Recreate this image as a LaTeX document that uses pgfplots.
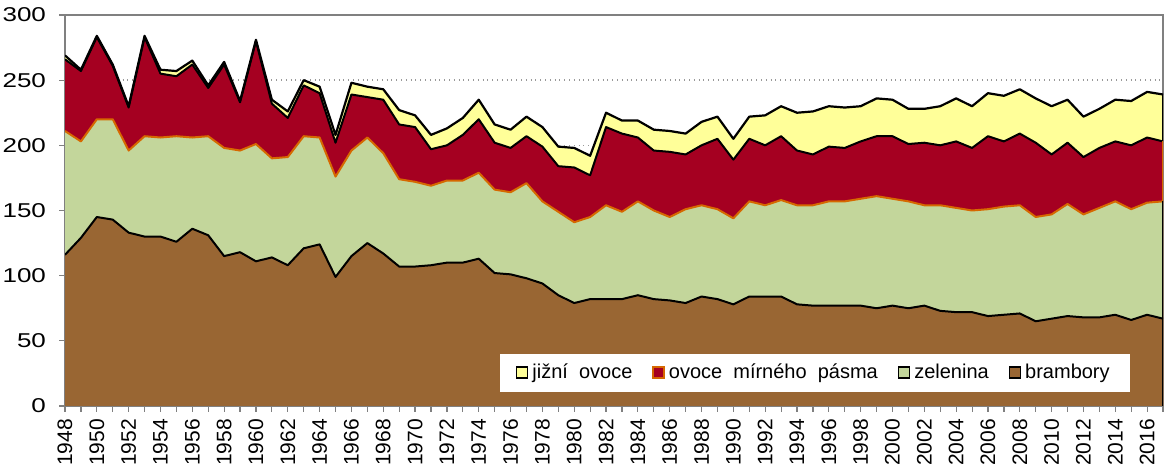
\documentclass[border=0pt]{standalone}
\usepackage{fontspec}
\setmainfont{Liberation Sans}
\usepackage{pgfplots}
\pgfplotsset{compat=1.18}
\usepackage{pgfplotstable}
\definecolor{cBrown}{RGB}{153,102,51}
\definecolor{cGreen}{RGB}{195,214,155}
\definecolor{cRed}{RGB}{165,0,33}
\definecolor{cYellow}{RGB}{255,255,153}
\definecolor{cOrange}{RGB}{214,104,0}
\pgfplotstableread{
year b z o j
1948 116 95 55 3
1949 129 74 54 1
1950 145 75 63 1
1951 143 77 41 1
1952 133 63 33 1
1953 130 77 76 1
1954 130 76 49 3
1955 126 81 46 4
1956 136 70 56 3
1957 131 76 37 2
1958 115 83 64 2
1959 118 78 37 1
1960 111 90 79 1
1961 114 76 42 3
1962 108 83 30 5
1963 121 86 39 4
1964 124 82 34 5
1965 99 77 26 6
1966 115 81 43 9
1967 125 81 31 8
1968 117 77 41 8
1969 107 67 42 11
1970 107 65 42 9
1971 108 61 28 11
1972 110 63 27 13
1973 110 63 35 13
1974 113 66 41 15
1975 102 64 36 14
1976 101 63 34 14
1977 98 73 36 15
1978 94 63 42 15
1979 85 64 35 15
1980 79 62 42 15
1981 82 63 32 15
1982 82 72 60 11
1983 82 67 60 10
1984 85 72 49 13
1985 82 68 46 16
1986 81 64 50 16
1987 79 72 42 16
1988 84 70 46 18
1989 82 69 54 17
1990 78 66 45 16
1991 84 73 48 17
1992 84 70 46 23
1993 84 74 49 23
1994 78 76 42 29
1995 77 77 39 33
1996 77 80 42 31
1997 77 80 41 31
1998 77 82 44 27
1999 75 86 46 29
2000 77 82 48 28
2001 75 82 44 27
2002 77 77 48 26
2003 73 81 46 30
2004 72 80 51 33
2005 72 78 48 32
2006 69 82 56 33
2007 70 83 50 35
2008 71 83 55 34
2009 65 80 57 34
2010 67 80 46 37
2011 69 86 47 33
2012 68 79 44 31
2013 68 84 46 30
2014 70 87 46 32
2015 66 85 49 34
2016 70 86 50 35
2017 67 90 46 36
}\data
\begin{document}
\begin{tikzpicture}
\begin{axis}[
  scale only axis, width=549pt, height=195.5pt,
  xmin=1948, xmax=2017, ymin=0, ymax=300,
  set layers,
  ytick={0,50,...,300},
  xtick={1948,1950,...,2016},
  minor xtick={1949,1951,...,2017},
  tick align=outside, xtick pos=bottom, ytick pos=left,
  major tick length=3pt, minor tick length=3pt,
  tick style={gray, line width=0.6pt},
  axis line style={gray, line width=0.7pt, on layer=axis foreground},
  ymajorgrids, grid style={gray!80, dotted, line width=0.7pt},
  /pgf/number format/assume math mode=true,
  x tick label style={rotate=90, anchor=east, font=\fontsize{10.5}{12}\selectfont, /pgf/number format/1000 sep={}},
  yticklabel={\scalebox{1.3}[1]{\pgfmathprintnumber{\tick}}},
  y tick label style={font=\fontsize{10}{12}\selectfont, xshift=-3pt},
  legend style={at={(0.970,0.036)}, anchor=south east, draw=none, fill=white,
    inner xsep=8pt, inner ysep=3pt,
    font=\fontsize{10}{12}\selectfont,
    /tikz/every even column/.append style={column sep=8pt}},
  legend columns=-1,
]
% filled areas (cumulative), drawn from the top series down
\addplot[fill=cYellow, draw=none,
  legend image code/.code={\draw[fill=cYellow, draw=black, line width=0.7pt] (0pt,-2.75pt) rectangle (5.5pt,2.75pt);}]
  table[x=year, y expr=\thisrow{b}+\thisrow{z}+\thisrow{o}+\thisrow{j}] {\data} \closedcycle;
\addlegendentry{jižní~~ovoce}
\addplot[fill=cRed, draw=none,
  legend image code/.code={\draw[fill=cRed, draw=cOrange, line width=0.7pt] (0pt,-2.75pt) rectangle (5.5pt,2.75pt);}]
  table[x=year, y expr=\thisrow{b}+\thisrow{z}+\thisrow{o}] {\data} \closedcycle;
\addlegendentry{ovoce~~mírného~~pásma}
\addplot[fill=cGreen, draw=none,
  legend image code/.code={\draw[fill=cGreen, draw=black, line width=0.7pt] (0pt,-2.75pt) rectangle (5.5pt,2.75pt);}]
  table[x=year, y expr=\thisrow{b}+\thisrow{z}] {\data} \closedcycle;
\addlegendentry{zelenina}
\addplot[fill=cBrown, draw=none,
  legend image code/.code={\draw[fill=cBrown, draw=black, line width=0.7pt] (0pt,-2.75pt) rectangle (5.5pt,2.75pt);}]
  table[x=year, y=b] {\data} \closedcycle;
\addlegendentry{brambory}
% boundary lines
\addplot[forget plot, black, line width=1pt, line join=round] table[x=year, y=b] {\data};
\addplot[forget plot, cOrange, line width=1pt, line join=round] table[x=year, y expr=\thisrow{b}+\thisrow{z}] {\data};
\addplot[forget plot, black, line width=1pt, line join=round] table[x=year, y expr=\thisrow{b}+\thisrow{z}+\thisrow{o}] {\data};
\addplot[forget plot, black, line width=1.1pt, line join=round] table[x=year, y expr=\thisrow{b}+\thisrow{z}+\thisrow{o}+\thisrow{j}] {\data};
% right edge of the areas at 2017
\addplot[forget plot, black, line width=1pt] coordinates {(2017,0) (2017,157)};
\addplot[forget plot, cOrange, line width=1pt] coordinates {(2017,157) (2017,203)};
\addplot[forget plot, black, line width=1pt] coordinates {(2017,203) (2017,239)};
\coordinate (bl) at (rel axis cs:0,0);
\coordinate (tr) at (rel axis cs:1,1);
\end{axis}
\pgfresetboundingbox
\path ([xshift=-32.5pt,yshift=-31pt]bl) rectangle ([xshift=2pt,yshift=7.5pt]tr);
\end{tikzpicture}
\end{document}
